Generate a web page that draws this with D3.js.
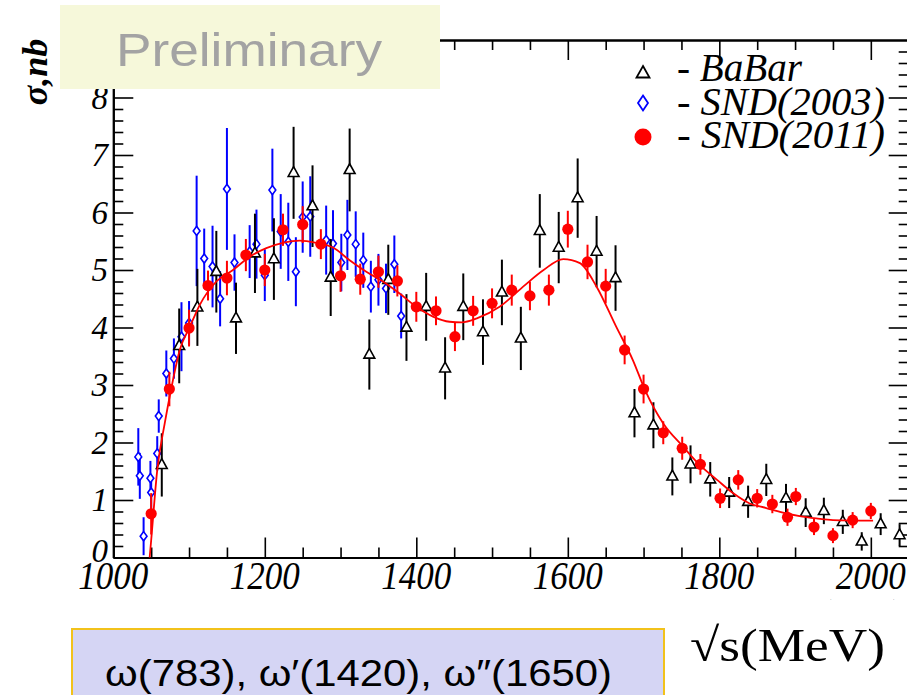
<!DOCTYPE html>
<meta charset="utf-8">
<html>
<head>
    <script src="https://d3js.org/d3.v7.min.js"></script>
    <style>
        body { margin: 0; background: #fff; }
        svg { display: block; }
    </style>
</head>
<body>
<div id="chart"></div>
<script>
    // data: [sqrt(s) MeV, sigma nb, error]
    var babar = [
        [1064,1.61,0.55],[1087,3.68,0.65],[1111,4.35,0.67],[1136,4.97,0.71],[1162,4.16,0.62],
        [1187,5.29,0.69],[1212,5.19,0.71],[1238,6.69,0.80],[1263,6.11,0.71],[1287,4.87,0.67],
        [1312,6.74,0.72],[1338,3.53,0.61],[1363,4.83,0.61],[1387,4.00,0.58],[1413,4.36,0.59],
        [1438,3.29,0.54],[1462,4.36,0.58],[1488,3.92,0.57],[1513,4.61,0.57],[1538,3.81,0.55],
        [1563,5.68,0.64],[1588,5.39,0.62],[1613,6.25,0.69],[1638,5.32,0.62],[1663,4.86,0.57],
        [1688,2.51,0.42],[1713,2.30,0.40],[1738,1.41,0.33],[1762,1.62,0.33],[1788,1.36,0.30],
        [1813,1.13,0.27],[1838,0.97,0.28],[1862,1.35,0.28],[1888,1.03,0.25],[1914,0.78,0.25],
        [1938,0.81,0.23],[1963,0.62,0.21],[1988,0.28,0.16],[2013,0.58,0.19],[2038,0.39,0.19]
    ];
    var snd2003 = [
        [1033,1.75,0.50],[1035,1.42,0.40],[1040,0.37,0.33],[1049,1.38,0.30],[1050,1.13,0.30],
        [1058,1.81,0.30],[1060,2.46,0.29],[1070,3.20,0.40],[1080,3.46,0.35],[1090,3.84,0.60],
        [1100,4.08,0.38],[1110,5.68,0.96],[1120,5.20,0.52],[1131,5.06,0.71],[1141,4.50,0.48],
        [1150,6.41,1.06],[1160,5.13,0.49],[1180,5.32,0.46],[1189,5.45,0.60],[1200,4.91,0.45],
        [1210,6.39,0.72],[1221,5.67,0.65],[1231,5.49,0.68],[1241,4.97,0.60],[1250,5.92,0.62],
        [1260,5.93,0.70],[1281,5.52,0.60],[1290,5.46,0.58],[1301,5.13,0.50],[1309,5.61,0.61],
        [1320,5.45,0.57],[1330,5.17,0.48],[1340,4.71,0.45],[1350,4.83,0.45],[1360,4.68,0.43],
        [1371,5.10,0.50],[1380,4.20,0.39]
    ];
    var snd2011 = [
        [1050,0.76,0.36],[1074,2.93,0.30],[1100,3.99,0.32],[1125,4.73,0.26],[1150,4.86,0.30],
        [1175,5.26,0.28],[1200,5.00,0.28],[1224,5.70,0.28],[1250,5.79,0.32],[1274,5.45,0.26],
        [1300,4.90,0.28],[1326,4.84,0.27],[1350,4.97,0.28],[1375,4.81,0.27],[1400,4.36,0.26],
        [1426,4.29,0.25],[1451,3.84,0.25],[1475,4.29,0.26],[1500,4.42,0.26],[1526,4.65,0.27],
        [1550,4.55,0.25],[1575,4.65,0.27],[1600,5.71,0.32],[1626,5.14,0.30],[1650,4.72,0.30],
        [1675,3.61,0.25],[1700,2.93,0.25],[1726,2.17,0.20],[1751,1.90,0.20],[1775,1.62,0.18],
        [1801,1.03,0.17],[1825,1.35,0.17],[1850,1.03,0.16],[1870,0.93,0.16],[1890,0.70,0.15],
        [1901,1.06,0.15],[1925,0.53,0.14],[1950,0.38,0.13],[1976,0.65,0.14],[2000,0.81,0.14]
    ];
    // fit curve
    var fitCurve = [
        [1048,0.0],[1050,0.30],[1058,1.52],[1068,2.34],[1077,2.97],[1088,3.62],[1101,4.01],
        [1114,4.39],[1136,4.80],[1158,5.00],[1180,5.23],[1202,5.38],[1224,5.47],[1246,5.51],
        [1268,5.47],[1290,5.39],[1312,5.17],[1334,4.97],[1356,4.80],[1378,4.59],[1400,4.36],
        [1422,4.19],[1444,4.10],[1460,4.09],[1480,4.16],[1510,4.36],[1541,4.71],[1568,5.00],
        [1594,5.19],[1616,5.12],[1638,4.71],[1664,4.01],[1686,3.43],[1702,2.91],[1726,2.33],
        [1752,1.93],[1774,1.61],[1797,1.35],[1818,1.12],[1840,0.94],[1862,0.86],[1884,0.78],
        [1906,0.72],[1928,0.68],[1950,0.65],[2003,0.64]
    ];
    var xMajor = [1000, 1200, 1400, 1600, 1800, 2000];
    var yMajor = [0, 1, 2, 3, 4, 5, 6, 7, 8];
    var legendLabels = ["- BaBar", "- SND(2003)", "- SND(2011)"];

    var W = 907, H = 695;
    var svg = d3.select("#chart").append("svg")
        .attr("width", W).attr("height", H);

    var x = d3.scaleLinear().domain([1000, 2050]).range([113.3, 908.7]);
    var y = d3.scaleLinear().domain([0, 9]).range([557.5, 40]);

    var serif = "Liberation Serif";
    var sans = "Liberation Sans";

    // frame
    var axes = svg.append("g").attr("class", "axes");
    function styleAxis(g) {
        g.selectAll(".domain").attr("stroke", "#000").attr("stroke-width", 2);
        g.selectAll(".tick line").attr("stroke", "#000").attr("stroke-width", 1.6);
        g.selectAll("text").remove();
    }
    var xMinor = d3.range(1000, 2051, 50).filter(function (v) { return xMajor.indexOf(v) < 0; });
    var yMinor = d3.range(0, 9.01, 0.2).filter(function (v) { return Math.abs(v - Math.round(v)) > 0.01; });

    [[d3.axisBottom, 557.5], [d3.axisTop, 40]].forEach(function (a) {
        axes.append("g").attr("transform", "translate(0," + a[1] + ")")
            .call(a[0](x).tickValues(xMajor).tickSizeInner(-20).tickSizeOuter(0)).call(styleAxis);
        axes.append("g").attr("transform", "translate(0," + a[1] + ")")
            .call(a[0](x).tickValues(xMinor).tickSizeInner(-10).tickSizeOuter(0)).call(styleAxis);
    });
    [[d3.axisLeft, 113.3], [d3.axisRight, 908.7]].forEach(function (a) {
        axes.append("g").attr("transform", "translate(" + a[1] + ",0)")
            .call(a[0](y).tickValues(yMajor).tickSizeInner(-20).tickSizeOuter(0)).call(styleAxis);
        axes.append("g").attr("transform", "translate(" + a[1] + ",0)")
            .call(a[0](y).tickValues(yMinor).tickSizeInner(-10).tickSizeOuter(0)).call(styleAxis);
    });

    // tick labels
    svg.append("g").selectAll("text").data(xMajor).enter().append("text")
        .attr("x", function (d) { return x(d) - 35; })
        .attr("y", 589)
        .attr("textLength", 70).attr("lengthAdjust", "spacingAndGlyphs")
        .attr("font-family", serif).attr("font-style", "italic").attr("font-size", 40)
        .text(function (d) { return d; });
    svg.append("g").selectAll("text").data(yMajor).enter().append("text")
        .attr("x", 108)
        .attr("y", function (d) { return y(d) + (d === 0 ? 4 : 11); })
        .attr("text-anchor", "end")
        .attr("font-family", serif).attr("font-style", "italic").attr("font-size", 33)
        .text(function (d) { return d; });

    // axis titles
    svg.append("text")
        .attr("transform", "translate(47,72) rotate(-90)")
        .attr("text-anchor", "middle")
        .attr("font-family", serif).attr("font-style", "italic").attr("font-weight", "bold")
        .attr("font-size", 36)
        .text("σ,nb");

    // hidden original title, only the top edge shows
    svg.append("clipPath").attr("id", "cutTitle").append("rect")
        .attr("x", 770).attr("y", 590).attr("width", 137).attr("height", 10);
    svg.append("text")
        .attr("x", 784).attr("y", 626)
        .attr("textLength", 118)
        .attr("clip-path", "url(#cutTitle)")
        .attr("font-family", serif).attr("font-style", "italic").attr("font-size", 38)
        .text("Eγ(MeV)");

    svg.append("text")
        .attr("x", 690).attr("y", 661)
        .attr("textLength", 195).attr("lengthAdjust", "spacingAndGlyphs")
        .attr("font-family", serif).attr("font-size", 47)
        .text("√s(MeV)");

    // data layers
    var plot = svg.append("g");
    function errorBars(data, color) {
        plot.append("g").selectAll("line").data(data).enter().append("line")
            .attr("x1", function (d) { return x(d[0]); })
            .attr("x2", function (d) { return x(d[0]); })
            .attr("y1", function (d) { return y(Math.max(0, d[1] - d[2])); })
            .attr("y2", function (d) { return y(d[1] + d[2]); })
            .attr("stroke", color).attr("stroke-width", 2);
    }
    var diamond = "M0,-4.6L3.4,0L0,4.6L-3.4,0Z";
    var triangle = "M0,-6.2L5.4,3.6L-5.4,3.6Z";

    errorBars(snd2003, "#0000ff");
    plot.append("g").selectAll("path").data(snd2003).enter().append("path")
        .attr("transform", function (d) { return "translate(" + x(d[0]) + "," + y(d[1]) + ")"; })
        .attr("d", diamond)
        .attr("fill", "#fff").attr("stroke", "#0000ff").attr("stroke-width", 1.6);

    errorBars(babar, "#000");
    plot.append("g").selectAll("path").data(babar).enter().append("path")
        .attr("transform", function (d) { return "translate(" + x(d[0]) + "," + y(d[1]) + ")"; })
        .attr("d", triangle)
        .attr("fill", "#fff").attr("stroke", "#000").attr("stroke-width", 1.6);

    errorBars(snd2011, "#ff0000");
    plot.append("g").selectAll("circle").data(snd2011).enter().append("circle")
        .attr("cx", function (d) { return x(d[0]); })
        .attr("cy", function (d) { return y(d[1]); })
        .attr("r", 5.6)
        .attr("fill", "#ff0000");

    var line = d3.line()
        .x(function (d) { return x(d[0]); })
        .y(function (d) { return y(d[1]); })
        .curve(d3.curveMonotoneX);
    plot.append("path").datum(fitCurve)
        .attr("d", line)
        .attr("fill", "none").attr("stroke", "#ff0000").attr("stroke-width", 1.8);

    // legend
    var legend = svg.append("g");
    legend.append("path").attr("transform", "translate(643,73)")
        .attr("d", "M0,-7L6.5,4.5L-6.5,4.5Z")
        .attr("fill", "#fff").attr("stroke", "#000").attr("stroke-width", 1.8);
    legend.append("path").attr("transform", "translate(643,103)")
        .attr("d", "M0,-7.5L5,0L0,7.5L-5,0Z")
        .attr("fill", "#fff").attr("stroke", "#0000ff").attr("stroke-width", 1.8);
    legend.append("circle").attr("cx", 643).attr("cy", 137).attr("r", 8.5).attr("fill", "#ff0000");
    var legendW = [125, 208, 208];
    legend.selectAll("text.lab").data(legendLabels).enter().append("text")
        .attr("class", "lab")
        .attr("x", 677)
        .attr("y", function (d, i) { return 81 + i * 33.5; })
        .attr("textLength", function (d, i) { return legendW[i]; })
        .attr("lengthAdjust", "spacingAndGlyphs")
        .attr("font-family", serif).attr("font-style", "italic").attr("font-size", 39)
        .text(function (d) { return d; });

    // Preliminary banner
    svg.append("rect")
        .attr("x", 60).attr("y", 5).attr("width", 380).attr("height", 84)
        .attr("fill", "#f6f8da");
    svg.append("text")
        .attr("x", 116).attr("y", 66)
        .attr("textLength", 266).attr("lengthAdjust", "spacingAndGlyphs")
        .attr("font-family", sans).attr("font-size", 47).attr("fill", "#a3a3a3")
        .text("Preliminary");

    // bottom note
    svg.append("rect")
        .attr("x", 72).attr("y", 629).attr("width", 592).attr("height", 80)
        .attr("fill", "#d5d5f4").attr("stroke", "#f2c21b").attr("stroke-width", 2);
    svg.append("text")
        .attr("x", 105).attr("y", 686)
        .attr("textLength", 507).attr("lengthAdjust", "spacingAndGlyphs")
        .attr("font-family", sans).attr("font-size", 36)
        .text("ω(783), ω′(1420), ω″(1650)");
</script>
</body>
</html>
